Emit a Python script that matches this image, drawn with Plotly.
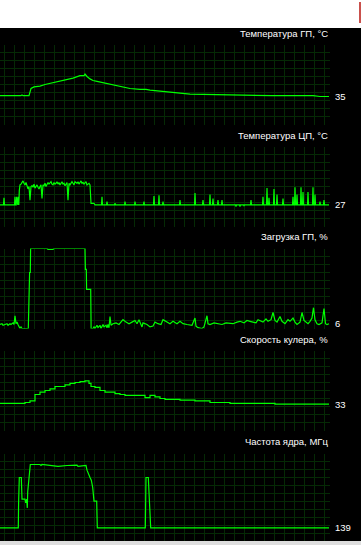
import plotly.graph_objects as go

W, H = 361, 545

# ---------------- data (x = sample index, one per pixel column) ----------------
gpu_temp_t = [0, 21, 22, 23, 29, 30, 31, 34, 40, 45, 52, 58, 65, 73, 80, 84, 85, 87, 90, 93,
              97, 107, 115, 123, 130, 140, 146, 150, 157, 175, 190, 230, 265, 272, 313, 320, 329]
gpu_temp_v = [36, 36, 37, 36, 36, 43, 45, 47, 48, 50, 52, 54, 56, 58, 61, 61, 63, 60, 57, 55,
              54, 51, 49, 47, 45, 44, 44, 43, 42, 40, 38, 37, 36, 36, 36, 35, 35]

cpu_temp_t = [0, 3.5, 4, 4.5, 14.5, 15, 15.5, 16.2, 16.7, 17.2, 17.8, 18.3, 18.8, 19.3,
              20, 21, 22, 23, 24, 25, 26, 27, 28, 29, 30, 31, 32, 33, 34, 35, 36, 37, 38, 39,
              40, 41, 42, 43, 44, 45, 46, 47, 48, 49, 50, 51, 52, 53, 54, 55, 56, 57, 58, 59,
              60, 61, 62, 63, 64, 65, 66, 67, 68, 69, 70, 71, 72, 73, 74, 75, 76, 77, 78, 79,
              80, 81, 82, 83, 84, 85, 86, 87, 88, 89, 90, 91, 94, 95]
cpu_temp_v = [27, 27, 36, 27, 27, 37, 27, 27, 37, 27, 27, 37, 27, 45,
              52, 53, 56, 57, 54, 52, 55, 52, 47, 50, 33, 50, 51, 49, 53, 48, 51, 52, 49, 47,
              50, 52, 35, 52, 51, 54, 50, 52, 55, 53, 54, 56, 53, 52, 55, 53, 54, 56, 53, 55,
              52, 54, 56, 53, 54, 51, 53, 55, 33, 54, 52, 55, 56, 54, 52, 56, 55, 54, 56, 53,
              55, 57, 54, 55, 53, 54, 56, 52, 53, 54, 52, 29, 29, 27]
cpu_base = 27
cpu_spike_t = [102, 107, 115, 125, 135, 144, 154, 159, 163, 180, 195, 203, 210, 213, 218, 222,
               236, 240, 244, 251, 263, 267, 269, 274, 277, 283, 293, 295, 297, 301, 303, 308,
               313, 315, 320, 324]
cpu_spike_v = [37, 31, 29, 31, 31, 31, 38, 39, 31, 33, 42, 33, 40, 35, 33, 33,
               25, 25, 26, 33, 37, 48, 36, 47, 40, 35, 37, 49, 40, 49, 43, 43,
               49, 40, 31, 33]
cpu_end_t = 329

gpu_load_t = [0, 2, 3, 5, 7, 8, 10, 11, 13, 14, 15, 16, 17, 18, 19, 20, 21, 22, 28.3, 28.6,
              29.3, 29.6, 30.3, 30.6, 47, 48, 50, 53, 54, 85, 85.4, 86.3, 86.6, 90.7, 91.1, 93,
              94, 95, 97, 98, 100, 101, 103, 104, 106, 107, 108, 109, 110, 111, 113, 116, 119,
              123, 126, 129, 132, 135, 137, 139, 142, 143, 147, 150, 153, 155, 158, 161, 163,
              167, 170, 173, 177, 180, 183, 187, 192, 195, 196, 198, 202, 204, 207, 208, 210,
              214, 218, 222, 226, 230, 233, 237, 240, 244, 247, 250, 253, 256, 258, 261, 263,
              266, 268, 271, 273, 275, 277, 280, 282, 285, 288, 290, 293, 295, 297, 300, 302,
              304, 306, 308, 310, 312, 313.5, 315, 317, 319, 322, 324, 325.5, 327, 329]
gpu_load_v = [5, 6, 4, 5, 6, 4, 6, 5, 7, 5, 16, 6, 8, 5, 3, 0, 2, 0, 0, 17,
              17, 70, 70, 100, 100, 99, 99, 99, 100, 100, 74, 74, 49, 49, 0, 0,
              2, 0, 4, 1, 4, 0, 5, 2, 4, 1, 5, 1, 15, 4, 6, 7, 5,
              11, 8, 6, 8, 10, 6, 11, 2, 7, 5, 2, 3, 8, 6, 5, 11,
              8, 6, 9, 6, 9, 6, 5, 4, 13, 3, 1, 0, 2, 16, 6, 5,
              7, 6, 5, 7, 6, 6, 8, 9, 7, 10, 9, 8, 7, 11, 9, 8,
              12, 9, 11, 20, 10, 8, 15, 9, 6, 11, 9, 13, 8, 5, 8, 20,
              10, 8, 6, 9, 13, 26, 11, 6, 5, 7, 25, 6, 5, 6]

fan_t = [0, 25, 30, 35, 40, 45, 50, 55, 65, 70, 75, 80, 85, 89, 91, 95, 100, 105, 115, 120,
         125, 145, 150, 155, 160, 165, 180, 195, 210, 230, 275, 329]
fan_v = [34, 35, 37, 45, 48, 50, 52, 55, 57, 59, 60, 61, 62, 59, 55, 54, 50, 48, 46, 45,
         44, 41, 44, 42, 40, 39, 38, 37, 35, 34, 33, 33]

clock_t = [0, 18.3, 18.6, 19.3, 21.3, 21.7, 22, 25, 25.7, 26.7, 27.3, 27.7, 28.7, 29.3, 30.3,
           40, 41, 42, 57, 58, 67, 77, 78, 86, 87, 88.7, 90, 91.3, 92.7, 94, 96.7, 97, 97.3,
           145.3, 145.7, 146, 148.3, 149, 150, 150.7, 329]
clock_v = [139, 139, 765, 1400, 1400, 1100, 857, 857, 765, 857, 640, 1040, 1400, 1558, 1725,
           1725, 1700, 1725, 1700, 1680, 1700, 1710, 1680, 1700, 1583, 1458, 1400, 1333, 1150,
           810, 810, 458, 139, 139, 750, 1400, 1400, 1100, 458, 139, 139]

titles = ["Температура ГП, °C", "Температура ЦП, °C", "Загрузка ГП, %",
          "Скорость кулера, %", "Частота ядра, МГц"]
value_ranges = [(0, 100), (0, 100), (0, 100), (0, 100), (0, 2000)]

# build CPU series (plateau + single-sample spikes on the idle baseline)
cpu_x = list(cpu_temp_t)
cpu_y = list(cpu_temp_v)
for st, sv in zip(cpu_spike_t, cpu_spike_v):
    cpu_x += [st - 0.5, st, st + 0.5]
    cpu_y += [cpu_base, sv, cpu_base]
cpu_x.append(cpu_end_t)
cpu_y.append(cpu_base)

series = [
    (gpu_temp_t, gpu_temp_v, "linear"),
    (cpu_x, cpu_y, "linear"),
    (gpu_load_t, gpu_load_v, "linear"),
    (fan_t, fan_v, "hv"),
    (clock_t, clock_v, "linear"),
]

# ---------------- layout geometry (pixels) ----------------
grid_top = [44.5, 146.5, 248.5, 350.5, 453.5]
grid_h = 80.0
dom_bottom = [124.5, 226.5, 328.5, 430.5, 541.0]
title_y = [33.5, 135.5, 237.0, 339.5, 441.5]
plot_right = 330.0
GRID = "#052a05"
LINE = "#00ff00"
FONT = "Liberation Sans, Arial, sans-serif"

fig = go.Figure()
layout = dict(
    width=W, height=H, margin=dict(l=0, r=0, t=0, b=0),
    paper_bgcolor="#000000", plot_bgcolor="#000000",
    showlegend=False, annotations=[], shapes=[],
)

for i, ((xs, ys, shp), title, (lo, hi)) in enumerate(zip(series, titles, value_ranges)):
    n = "" if i == 0 else str(i + 1)
    per_px = (hi - lo) / grid_h
    rng_lo = lo - (dom_bottom[i] - (grid_top[i] + grid_h)) * per_px
    fig.add_trace(go.Scatter(
        x=xs, y=ys, mode="lines", line=dict(color=LINE, width=1.2, shape=shp),
        xaxis="x" + n, yaxis="y" + n, hoverinfo="skip",
    ))
    layout["xaxis" + n] = dict(
        domain=[0, plot_right / W], range=[0, plot_right], anchor="y" + n,
        showgrid=True, gridcolor=GRID, gridwidth=1, tick0=4.5, dtick=10,
        showticklabels=False, ticks="", zeroline=False, showline=False, fixedrange=True,
    )
    layout["yaxis" + n] = dict(
        domain=[1 - dom_bottom[i] / H, 1 - grid_top[i] / H], range=[rng_lo, hi],
        anchor="x" + n, showgrid=True, gridcolor=GRID, gridwidth=1, tick0=lo,
        dtick=(hi - lo) / 10, showticklabels=False, ticks="", zeroline=False,
        showline=False, fixedrange=True,
    )
    layout["annotations"].append(dict(
        text=title, xref="paper", yref="paper", x=plot_right / W, y=1 - title_y[i] / H,
        xanchor="right", yanchor="middle", showarrow=False,
        font=dict(family=FONT, size=9.5, color="#ffffff"),
    ))
    layout["annotations"].append(dict(
        text=str(int(round(ys[-1]))), xref="paper", yref="y" + n, x=333 / W, y=ys[-1],
        xanchor="left", yanchor="middle", showarrow=False,
        font=dict(family=FONT, size=9.5, color="#ffffff"),
    ))

# window chrome: white strip at top, red marker, grey strip at bottom
layout["shapes"] += [
    dict(type="rect", xref="paper", yref="paper", x0=0, x1=1, y0=1 - 28 / H, y1=1,
         fillcolor="#ffffff", line=dict(width=0), layer="above"),
    dict(type="rect", xref="paper", yref="paper", x0=359 / W, x1=1, y0=1 - 23 / H,
         y1=1 - 2 / H, fillcolor="#c9504c", line=dict(width=0), layer="above"),
    dict(type="rect", xref="paper", yref="paper", x0=0, x1=1, y0=0, y1=4 / H,
         fillcolor="#dedede", line=dict(width=0), layer="above"),
]

fig.update_layout(**layout)
fig.write_html("out.html", config={"displayModeBar": False})
